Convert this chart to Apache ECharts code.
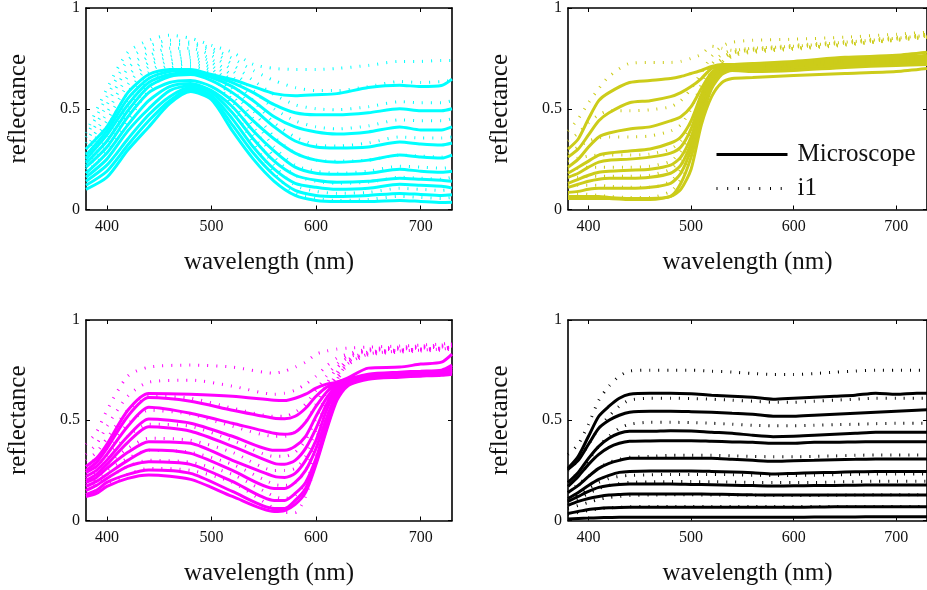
<!DOCTYPE html>
<html>
<head>
<meta charset="utf-8">
<script src="https://cdn.jsdelivr.net/npm/echarts@6/dist/echarts.min.js"></script>
<style>
html, body { margin: 0; padding: 0; background: #fff; }
#main { width: 927px; height: 590px; }
</style>
</head>
<body>
<div id="main"></div>
<script>
// wavelength samples (nm) for each panel
var cyanWl = [380,400,420,440,460,480,500,520,540,560,580,600,620,650,680,700,720,730];
var yellowWl = [380,390,400,410,420,440,460,480,490,500,510,520,530,540,560,600,650,700,730];
var magentaWl = [380,390,400,420,440,480,520,560,570,580,590,600,610,620,630,650,680,700,720,730];
var blackWl = [380,390,400,410,420,430,440,460,480,500,520,540,560,580,600,620,640,660,680,700,720,730];

// cyan panel
var cyanMicro = [
  [0.30,0.41,0.58,0.67,0.695,0.695,0.67,0.645,0.61,0.575,0.565,0.57,0.575,0.605,0.617,0.61,0.615,0.647],
  [0.27,0.39,0.55,0.65,0.685,0.69,0.665,0.63,0.58,0.52,0.48,0.47,0.47,0.48,0.50,0.49,0.49,0.50],
  [0.25,0.37,0.52,0.63,0.67,0.68,0.655,0.61,0.54,0.46,0.41,0.385,0.375,0.385,0.41,0.395,0.395,0.41],
  [0.23,0.34,0.49,0.61,0.66,0.67,0.64,0.58,0.50,0.41,0.34,0.31,0.305,0.31,0.335,0.325,0.32,0.33],
  [0.21,0.31,0.46,0.58,0.63,0.64,0.61,0.54,0.44,0.35,0.28,0.245,0.235,0.245,0.27,0.26,0.255,0.27],
  [0.18,0.28,0.42,0.54,0.61,0.625,0.59,0.51,0.39,0.29,0.21,0.18,0.175,0.18,0.20,0.19,0.185,0.19],
  [0.16,0.25,0.39,0.50,0.59,0.615,0.58,0.48,0.35,0.24,0.17,0.145,0.135,0.14,0.155,0.15,0.145,0.14],
  [0.14,0.22,0.35,0.47,0.56,0.605,0.565,0.45,0.31,0.20,0.13,0.11,0.10,0.105,0.125,0.12,0.115,0.106],
  [0.12,0.19,0.32,0.44,0.54,0.595,0.555,0.42,0.28,0.17,0.095,0.07,0.065,0.07,0.08,0.075,0.07,0.073],
  [0.10,0.16,0.295,0.41,0.525,0.585,0.545,0.39,0.25,0.14,0.07,0.045,0.04,0.04,0.045,0.04,0.035,0.036]
];
var cyanI1 = [
  [0.38,0.60,0.78,0.84,0.865,0.85,0.815,0.78,0.72,0.70,0.695,0.695,0.70,0.715,0.735,0.735,0.74,0.74],
  [0.36,0.56,0.74,0.81,0.84,0.83,0.80,0.75,0.69,0.64,0.605,0.59,0.59,0.61,0.635,0.63,0.635,0.64],
  [0.33,0.52,0.70,0.78,0.82,0.82,0.785,0.72,0.64,0.57,0.52,0.50,0.495,0.51,0.535,0.53,0.53,0.54],
  [0.30,0.48,0.66,0.76,0.80,0.80,0.765,0.69,0.59,0.50,0.44,0.41,0.40,0.415,0.445,0.44,0.44,0.45],
  [0.28,0.44,0.62,0.73,0.78,0.785,0.745,0.66,0.54,0.43,0.36,0.32,0.315,0.33,0.36,0.355,0.355,0.36],
  [0.26,0.41,0.58,0.71,0.76,0.77,0.73,0.63,0.49,0.36,0.28,0.245,0.24,0.245,0.27,0.265,0.26,0.27],
  [0.24,0.38,0.54,0.68,0.74,0.755,0.715,0.60,0.45,0.31,0.22,0.19,0.18,0.19,0.215,0.21,0.205,0.21],
  [0.22,0.35,0.50,0.65,0.72,0.74,0.70,0.57,0.41,0.26,0.17,0.14,0.13,0.135,0.16,0.155,0.15,0.16],
  [0.20,0.32,0.47,0.62,0.70,0.725,0.685,0.54,0.37,0.22,0.12,0.09,0.08,0.085,0.105,0.10,0.095,0.10],
  [0.18,0.29,0.44,0.59,0.68,0.71,0.67,0.51,0.33,0.18,0.08,0.055,0.045,0.05,0.065,0.06,0.055,0.06]
];

// yellow panel
var yellowMicro = [
  [0.30,0.35,0.45,0.54,0.58,0.63,0.64,0.65,0.66,0.675,0.69,0.71,0.72,0.72,0.725,0.735,0.755,0.765,0.78],
  [0.26,0.30,0.37,0.44,0.48,0.53,0.54,0.56,0.58,0.61,0.65,0.70,0.715,0.715,0.72,0.73,0.745,0.755,0.765],
  [0.21,0.25,0.31,0.36,0.38,0.40,0.41,0.44,0.46,0.51,0.60,0.68,0.71,0.71,0.715,0.725,0.74,0.745,0.755],
  [0.18,0.21,0.24,0.27,0.28,0.29,0.30,0.33,0.36,0.44,0.57,0.67,0.705,0.71,0.71,0.72,0.735,0.74,0.75],
  [0.16,0.18,0.21,0.235,0.245,0.25,0.26,0.28,0.31,0.40,0.55,0.66,0.70,0.705,0.705,0.715,0.73,0.735,0.745],
  [0.13,0.15,0.17,0.185,0.19,0.195,0.20,0.22,0.26,0.36,0.52,0.65,0.695,0.705,0.70,0.71,0.725,0.73,0.74],
  [0.11,0.125,0.14,0.15,0.155,0.155,0.16,0.18,0.22,0.33,0.50,0.635,0.69,0.70,0.70,0.705,0.72,0.725,0.735],
  [0.085,0.09,0.10,0.105,0.105,0.105,0.11,0.13,0.18,0.30,0.48,0.62,0.68,0.70,0.695,0.70,0.715,0.72,0.73],
  [0.065,0.065,0.065,0.065,0.06,0.055,0.055,0.065,0.13,0.26,0.45,0.60,0.67,0.69,0.685,0.69,0.705,0.715,0.72],
  [0.055,0.055,0.055,0.055,0.055,0.05,0.05,0.065,0.10,0.20,0.42,0.56,0.63,0.65,0.655,0.665,0.675,0.685,0.70]
];
var yellowI1 = [
  [0.39,0.45,0.53,0.60,0.66,0.725,0.73,0.73,0.735,0.75,0.77,0.81,0.80,0.79,0.80,0.81,0.83,0.85,0.865],
  [0.34,0.38,0.43,0.47,0.49,0.49,0.495,0.51,0.54,0.60,0.68,0.76,0.81,0.83,0.84,0.845,0.855,0.87,0.88],
  [0.28,0.31,0.34,0.355,0.36,0.36,0.365,0.39,0.42,0.50,0.62,0.72,0.77,0.79,0.80,0.815,0.835,0.855,0.87],
  [0.24,0.255,0.265,0.27,0.27,0.27,0.275,0.30,0.34,0.43,0.57,0.69,0.75,0.78,0.795,0.81,0.83,0.85,0.865],
  [0.20,0.205,0.21,0.21,0.21,0.21,0.215,0.24,0.29,0.38,0.53,0.67,0.74,0.775,0.79,0.805,0.825,0.845,0.86],
  [0.16,0.16,0.165,0.165,0.165,0.165,0.17,0.20,0.25,0.35,0.50,0.65,0.73,0.77,0.79,0.80,0.82,0.845,0.86],
  [0.12,0.12,0.12,0.12,0.115,0.11,0.11,0.14,0.20,0.31,0.47,0.63,0.72,0.765,0.785,0.80,0.82,0.84,0.855],
  [0.08,0.08,0.075,0.07,0.065,0.06,0.06,0.09,0.15,0.27,0.44,0.61,0.71,0.76,0.78,0.795,0.815,0.84,0.855]
];

// magenta panel
var magentaMicro = [
  [0.27,0.31,0.38,0.55,0.634,0.63,0.62,0.60,0.598,0.61,0.63,0.66,0.68,0.69,0.71,0.76,0.765,0.78,0.79,0.83],
  [0.25,0.29,0.36,0.52,0.613,0.595,0.55,0.51,0.508,0.52,0.56,0.62,0.665,0.69,0.705,0.73,0.74,0.745,0.75,0.775],
  [0.24,0.27,0.33,0.47,0.565,0.535,0.485,0.435,0.43,0.44,0.49,0.57,0.64,0.685,0.70,0.725,0.735,0.74,0.745,0.765],
  [0.22,0.25,0.30,0.42,0.506,0.485,0.42,0.35,0.35,0.37,0.42,0.52,0.61,0.675,0.70,0.72,0.73,0.735,0.74,0.755],
  [0.20,0.23,0.28,0.39,0.468,0.445,0.37,0.285,0.28,0.30,0.36,0.46,0.58,0.665,0.695,0.72,0.73,0.735,0.74,0.75],
  [0.19,0.215,0.26,0.34,0.393,0.385,0.30,0.22,0.215,0.235,0.30,0.40,0.55,0.65,0.69,0.715,0.725,0.73,0.735,0.745],
  [0.17,0.195,0.23,0.30,0.352,0.335,0.25,0.16,0.16,0.19,0.25,0.36,0.51,0.635,0.685,0.715,0.725,0.73,0.735,0.745],
  [0.15,0.175,0.21,0.27,0.293,0.28,0.195,0.10,0.10,0.135,0.19,0.31,0.48,0.62,0.68,0.71,0.72,0.725,0.73,0.74],
  [0.13,0.15,0.19,0.23,0.252,0.235,0.145,0.06,0.06,0.10,0.16,0.29,0.46,0.61,0.675,0.71,0.72,0.725,0.73,0.735],
  [0.12,0.135,0.17,0.21,0.227,0.205,0.12,0.045,0.05,0.08,0.14,0.28,0.45,0.60,0.67,0.705,0.715,0.72,0.725,0.73]
];
var magentaI1 = [
  [0.38,0.44,0.55,0.72,0.765,0.775,0.765,0.735,0.745,0.765,0.79,0.83,0.845,0.855,0.86,0.865,0.87,0.875,0.88,0.885],
  [0.33,0.38,0.47,0.62,0.69,0.70,0.67,0.63,0.635,0.65,0.68,0.72,0.77,0.81,0.83,0.855,0.865,0.87,0.875,0.88],
  [0.30,0.34,0.41,0.55,0.62,0.61,0.56,0.52,0.52,0.54,0.58,0.65,0.72,0.78,0.82,0.85,0.86,0.865,0.87,0.875],
  [0.27,0.31,0.36,0.48,0.55,0.53,0.47,0.42,0.42,0.44,0.49,0.58,0.68,0.76,0.81,0.845,0.855,0.86,0.865,0.87],
  [0.24,0.27,0.32,0.42,0.48,0.47,0.40,0.32,0.32,0.34,0.40,0.51,0.63,0.74,0.80,0.84,0.85,0.855,0.86,0.865],
  [0.21,0.24,0.28,0.36,0.41,0.40,0.34,0.25,0.25,0.26,0.32,0.45,0.60,0.72,0.79,0.835,0.85,0.855,0.86,0.865],
  [0.18,0.21,0.25,0.31,0.35,0.34,0.28,0.18,0.175,0.19,0.25,0.40,0.57,0.71,0.785,0.83,0.845,0.85,0.855,0.86],
  [0.15,0.18,0.21,0.27,0.30,0.29,0.23,0.12,0.11,0.125,0.18,0.35,0.54,0.70,0.78,0.83,0.845,0.85,0.855,0.86],
  [0.13,0.15,0.18,0.23,0.26,0.25,0.19,0.06,0.04,0.04,0.12,0.30,0.51,0.69,0.775,0.825,0.84,0.845,0.85,0.855]
];

// black panel
var blackMicro = [
  [0.26,0.32,0.42,0.52,0.57,0.61,0.63,0.635,0.635,0.632,0.625,0.62,0.615,0.605,0.61,0.615,0.62,0.625,0.635,0.63,0.635,0.635],
  [0.255,0.30,0.38,0.46,0.50,0.525,0.54,0.545,0.545,0.543,0.54,0.535,0.53,0.52,0.52,0.525,0.53,0.535,0.54,0.545,0.55,0.552],
  [0.19,0.24,0.31,0.37,0.41,0.435,0.445,0.445,0.448,0.446,0.44,0.435,0.425,0.418,0.42,0.425,0.43,0.435,0.44,0.44,0.44,0.44],
  [0.17,0.22,0.28,0.33,0.365,0.385,0.395,0.397,0.398,0.398,0.395,0.392,0.39,0.385,0.385,0.39,0.39,0.392,0.393,0.393,0.393,0.393],
  [0.14,0.175,0.22,0.26,0.285,0.30,0.31,0.31,0.31,0.31,0.31,0.305,0.30,0.295,0.298,0.30,0.303,0.305,0.307,0.307,0.307,0.307],
  [0.11,0.14,0.175,0.205,0.225,0.24,0.245,0.247,0.247,0.247,0.245,0.242,0.238,0.232,0.235,0.238,0.24,0.243,0.245,0.244,0.244,0.244],
  [0.095,0.12,0.145,0.165,0.175,0.18,0.182,0.182,0.182,0.18,0.178,0.176,0.174,0.172,0.173,0.174,0.175,0.176,0.177,0.177,0.177,0.177],
  [0.075,0.095,0.11,0.12,0.127,0.13,0.132,0.132,0.132,0.132,0.131,0.13,0.128,0.127,0.127,0.127,0.127,0.127,0.127,0.127,0.127,0.127],
  [0.035,0.045,0.055,0.06,0.063,0.065,0.066,0.066,0.066,0.066,0.066,0.066,0.066,0.066,0.066,0.067,0.068,0.068,0.069,0.069,0.069,0.069],
  [0.008,0.01,0.012,0.014,0.015,0.016,0.016,0.016,0.016,0.016,0.016,0.016,0.016,0.016,0.016,0.017,0.018,0.018,0.019,0.019,0.019,0.019]
];
var blackI1 = [
  [0.33,0.38,0.48,0.60,0.67,0.72,0.745,0.75,0.75,0.75,0.745,0.74,0.733,0.728,0.728,0.733,0.74,0.745,0.75,0.75,0.75,0.75],
  [0.25,0.30,0.38,0.46,0.52,0.57,0.60,0.61,0.61,0.608,0.605,0.60,0.595,0.59,0.59,0.595,0.60,0.605,0.61,0.61,0.61,0.61],
  [0.19,0.24,0.30,0.37,0.42,0.46,0.48,0.49,0.49,0.488,0.485,0.48,0.475,0.472,0.472,0.475,0.478,0.48,0.483,0.485,0.485,0.485],
  [0.14,0.18,0.22,0.26,0.29,0.305,0.315,0.32,0.325,0.325,0.325,0.322,0.32,0.318,0.318,0.32,0.322,0.325,0.327,0.327,0.327,0.327],
  [0.10,0.13,0.16,0.19,0.21,0.22,0.225,0.228,0.23,0.23,0.23,0.228,0.226,0.225,0.225,0.226,0.228,0.23,0.232,0.232,0.232,0.232],
  [0.09,0.11,0.135,0.16,0.175,0.185,0.19,0.193,0.194,0.194,0.193,0.192,0.19,0.19,0.19,0.19,0.192,0.194,0.196,0.196,0.196,0.196],
  [0.06,0.075,0.09,0.105,0.115,0.12,0.125,0.127,0.128,0.128,0.127,0.127,0.126,0.125,0.125,0.125,0.126,0.127,0.128,0.128,0.128,0.128],
  [0.03,0.04,0.05,0.058,0.063,0.066,0.068,0.07,0.07,0.07,0.07,0.07,0.07,0.07,0.07,0.07,0.07,0.07,0.07,0.07,0.07,0.07]
];

var xTicks = [400, 500, 600, 700];
var serif = 'Liberation Serif';
var ink = '#111';

var panels = [
  { wl: cyanWl, micro: cyanMicro, i1: cyanI1, color: '#00ffff', left: 86, top: 8, height: 201.5 },
  { wl: yellowWl, micro: yellowMicro, i1: yellowI1, color: '#cccc1a', left: 568, top: 8, height: 201.5 },
  { wl: magentaWl, micro: magentaMicro, i1: magentaI1, color: '#ff00ff', left: 86, top: 320, height: 200.5 },
  { wl: blackWl, micro: blackMicro, i1: blackI1, color: '#000000', left: 568, top: 320, height: 200.5 }
];

var grids = [], xAxes = [], yAxes = [], series = [];
var frame = { onZero: false, lineStyle: { color: '#000', width: 1.6 } };

panels.forEach(function (p, i) {
  grids.push({ left: p.left, top: p.top, width: 366, height: p.height });
  xAxes.push({
    gridIndex: i, type: 'value', min: 380, max: 730, position: 'bottom',
    axisLine: frame,
    axisTick: { inside: true, length: 4, customValues: xTicks, lineStyle: { color: '#000' } },
    axisLabel: { customValues: xTicks, color: ink, fontFamily: serif, fontSize: 16, margin: 9 },
    splitLine: { show: false },
    name: 'wavelength (nm)', nameLocation: 'middle', nameGap: 40,
    nameTextStyle: { color: ink, fontFamily: serif, fontSize: 25 }
  });
  xAxes.push({
    gridIndex: i, type: 'value', min: 380, max: 730, position: 'top',
    axisLine: frame,
    axisTick: { inside: true, length: 4, customValues: xTicks, lineStyle: { color: '#000' } },
    axisLabel: { show: false }, splitLine: { show: false }
  });
  yAxes.push({
    gridIndex: i, type: 'value', min: 0, max: 1, interval: 0.5, position: 'left',
    axisLine: frame,
    axisTick: { inside: true, length: 4, lineStyle: { color: '#000' } },
    axisLabel: { color: ink, fontFamily: serif, fontSize: 16, margin: 6 },
    splitLine: { show: false },
    name: 'reflectance', nameLocation: 'middle', nameGap: 55,
    nameTextStyle: { color: ink, fontFamily: serif, fontSize: 25 }
  });
  yAxes.push({
    gridIndex: i, type: 'value', min: 0, max: 1, interval: 0.5, position: 'right',
    axisLine: frame,
    axisTick: { inside: true, length: 4, lineStyle: { color: '#000' } },
    axisLabel: { show: false }, splitLine: { show: false }
  });

  p.micro.forEach(function (vals) {
    series.push({
      type: 'line', name: 'Microscope', xAxisIndex: i * 2, yAxisIndex: i * 2,
      data: p.wl.map(function (w, j) { return [w, vals[j]]; }),
      symbol: 'none', smooth: 0.25, silent: true,
      itemStyle: { color: p.color },
      lineStyle: { color: p.color, width: 3 }
    });
  });
  p.i1.forEach(function (vals) {
    series.push({
      type: 'line', name: 'i1', xAxisIndex: i * 2, yAxisIndex: i * 2,
      data: p.wl.map(function (w, j) { return [w, vals[j]]; }),
      symbol: 'none', smooth: 0.25, silent: true,
      itemStyle: { color: p.color },
      lineStyle: { color: p.color, width: 3, type: [1, 8], cap: 'butt' }
    });
  });
});

var chart = echarts.init(document.getElementById('main'));
chart.setOption({
  animation: false,
  backgroundColor: '#fff',
  grid: grids,
  xAxis: xAxes,
  yAxis: yAxes,
  legend: {
    orient: 'vertical', left: 715, top: 142, itemGap: 9, padding: 0,
    itemWidth: 71, itemHeight: 14, selectedMode: false,
    textStyle: { color: ink, fontFamily: serif, fontSize: 25, padding: [0, 0, 0, 5] },
    data: [
      { name: 'Microscope', itemStyle: { color: 'rgba(0,0,0,0)', borderWidth: 0 },
        lineStyle: { color: '#000', width: 3, type: 'solid' } },
      { name: 'i1', itemStyle: { color: 'rgba(0,0,0,0)', borderWidth: 0 },
        lineStyle: { color: '#000', width: 3, type: [1, 9.7], cap: 'butt' } }
    ]
  },
  series: series
});
</script>
</body>
</html>
